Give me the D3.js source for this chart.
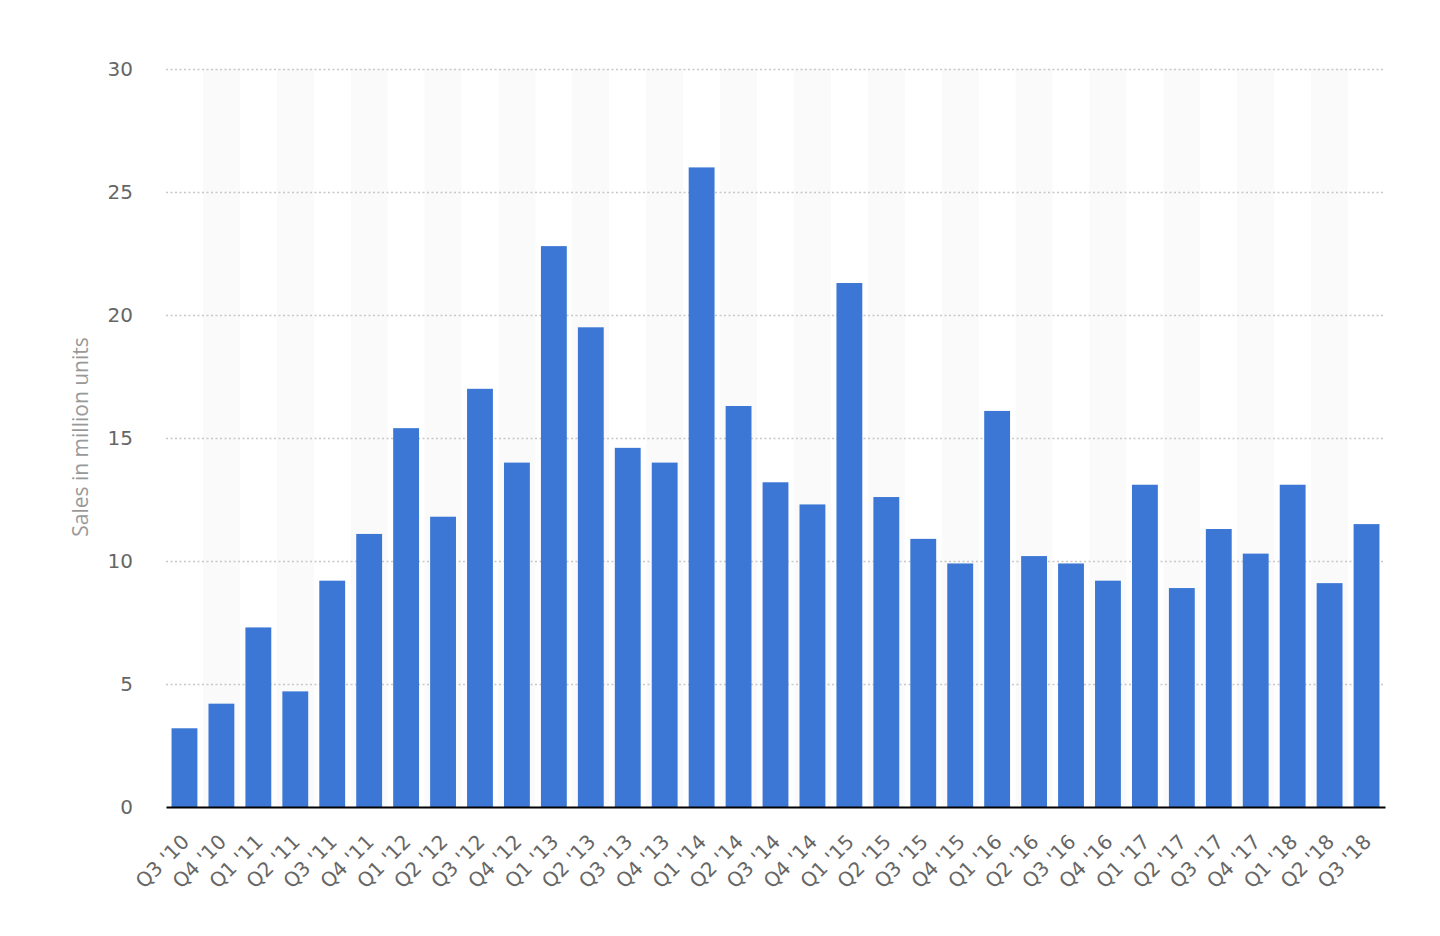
<!DOCTYPE html>
<html>
<head>
<meta charset="utf-8">
<script src="https://cdn.jsdelivr.net/npm/d3@7"></script>
<style>
  body { margin: 0; background: #fff; }
  #chart { width: 1440px; height: 936px; }
</style>
</head>
<body>
<div id="chart"></div>
<script>
// quarters and unit sales (million)
const quarters = ["Q3 '10", "Q4 '10",
  "Q1 '11", "Q2 '11", "Q3 '11", "Q4 '11",
  "Q1 '12", "Q2 '12", "Q3 '12", "Q4 '12",
  "Q1 '13", "Q2 '13", "Q3 '13", "Q4 '13",
  "Q1 '14", "Q2 '14", "Q3 '14", "Q4 '14",
  "Q1 '15", "Q2 '15", "Q3 '15", "Q4 '15",
  "Q1 '16", "Q2 '16", "Q3 '16", "Q4 '16",
  "Q1 '17", "Q2 '17", "Q3 '17", "Q4 '17",
  "Q1 '18", "Q2 '18", "Q3 '18"];
const sales = [3.2, 4.2,
  7.3, 4.7, 9.2, 11.1,
  15.4, 11.8, 17.0, 14.0,
  22.8, 19.5, 14.6, 14.0,
  26.0, 16.3, 13.2, 12.3,
  21.3, 12.6, 10.9, 9.9,
  16.1, 10.2, 9.9, 9.2,
  13.1, 8.9, 11.3, 10.3,
  13.1, 9.1, 11.5];
const yTicks = [0, 5, 10, 15, 20, 25, 30];

const width = 1440, height = 936;
const margin = { top: 69, right: 55, bottom: 129, left: 166 };
const chartWidth = width - margin.left - margin.right;
const chartHeight = height - margin.top - margin.bottom;

const svg = d3.select('#chart').append('svg')
  .attr('width', width)
  .attr('height', height);

const g = svg.append('g')
  .attr('transform', `translate(${margin.left},${margin.top})`);

const x = d3.scaleBand()
  .domain(quarters)
  .range([0, chartWidth])
  .paddingInner(0.3)
  .paddingOuter(0.15);

const y = d3.scaleLinear()
  .domain([0, 30])
  .range([chartHeight, 0]);

// alternating column shading
const step = x.step();
g.selectAll('rect.stripe')
  .data(quarters.filter((d, i) => i % 2 === 1))
  .enter().append('rect')
  .attr('class', 'stripe')
  .attr('x', d => x(d) + x.bandwidth() / 2 - step / 2)
  .attr('y', 0)
  .attr('width', step)
  .attr('height', chartHeight)
  .attr('fill', '#fafafa');

// gridlines
g.append('g')
  .call(d3.axisLeft(y).tickValues(yTicks.slice(1)).tickSize(-chartWidth).tickFormat(''))
  .call(a => a.select('.domain').remove())
  .selectAll('line')
  .attr('stroke', '#c8c8c8')
  .attr('stroke-width', 1.3)
  .attr('stroke-dasharray', '2,2.5');

// y labels
g.append('g')
  .call(d3.axisLeft(y).tickValues(yTicks).tickSize(0).tickPadding(33))
  .call(a => a.select('.domain').remove())
  .selectAll('text')
  .attr('fill', '#666')
  .style('font-family', 'DejaVu Sans, sans-serif')
  .style('font-size', '20px');

// bars
g.selectAll('rect.bar')
  .data(sales)
  .enter().append('rect')
  .attr('class', 'bar')
  .attr('x', (d, i) => x(quarters[i]))
  .attr('y', d => y(d))
  .attr('width', x.bandwidth())
  .attr('height', d => chartHeight - y(d))
  .attr('fill', '#3c77d5');

// baseline + x labels
const xAxis = g.append('g')
  .attr('transform', `translate(0,${chartHeight})`)
  .call(d3.axisBottom(x).tickSize(0).tickSizeOuter(0));
xAxis.select('.domain').attr('stroke', '#000').attr('stroke-width', 2);
xAxis.selectAll('text')
  .attr('fill', '#666')
  .attr('dy', 0)
  .attr('y', 0)
  .attr('transform', 'translate(6,36) rotate(-45)')
  .style('text-anchor', 'end')
  .style('font-family', 'DejaVu Sans, sans-serif')
  .style('font-size', '20px');

// y title
svg.append('text')
  .attr('transform', `translate(88,${margin.top + y(15) - 1}) rotate(-90)`)
  .attr('text-anchor', 'middle')
  .attr('fill', '#999')
  .style('font-family', 'Open Sans, sans-serif')
  .style('font-size', '21px')
  .text('Sales in million units');
</script>
</body>
</html>
